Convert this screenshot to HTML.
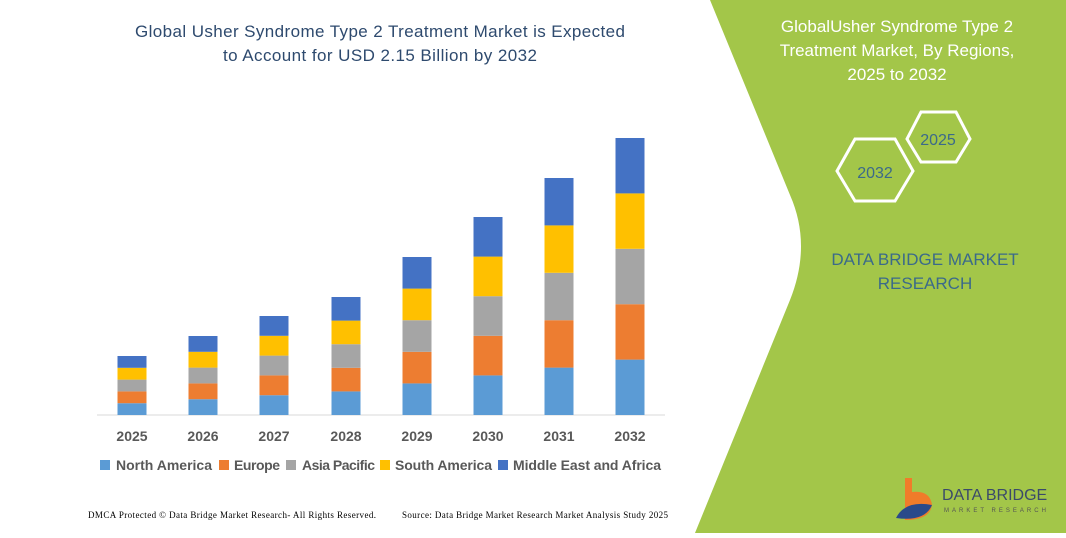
<!DOCTYPE html>
<html><head><meta charset="utf-8"><style>
body{margin:0;width:1066px;height:533px;overflow:hidden;background:#fff;font-family:"Liberation Sans",sans-serif;}
</style></head><body>
<svg width="1066" height="533" viewBox="0 0 1066 533" xmlns="http://www.w3.org/2000/svg" font-family="Liberation Sans,sans-serif">
<path d="M710,0 L1066,0 L1066,533 L695,533 L790,300 Q812,245 790,195 Z" fill="#a3c649"/>
<text x="380" y="37" text-anchor="middle" font-size="17" fill="#2e4a6e" textLength="490">Global Usher Syndrome Type 2 Treatment Market is Expected</text>
<text x="380" y="61" text-anchor="middle" font-size="17" fill="#2e4a6e" textLength="314">to Account for USD 2.15 Billion by 2032</text>
<g font-size="17" fill="#fff" text-anchor="middle">
<text x="897" y="32">GlobalUsher Syndrome Type 2</text>
<text x="897" y="56">Treatment Market, By Regions,</text>
<text x="897" y="80">2025 to 2032</text>
</g>
<polygon points="855,139 895,139 913,171 895,201 855,201 837,171" fill="none" stroke="#fff" stroke-width="3"/>
<polygon points="921,112 956,112 970,139 956,162 921,162 907,139" fill="none" stroke="#fff" stroke-width="3"/>
<text x="875" y="178" text-anchor="middle" font-size="16" fill="#3b6a8a">2032</text>
<text x="938" y="145" text-anchor="middle" font-size="16" fill="#3b6a8a">2025</text>
<text x="925" y="265" text-anchor="middle" font-size="17" fill="#3b6a8a">DATA BRIDGE MARKET</text>
<text x="925" y="289" text-anchor="middle" font-size="17" fill="#3b6a8a">RESEARCH</text>
<path d="M905,478 L912,478 L912,492 Q930,490 932,505 Q930,520 905,520 Z" fill="#f07c2a"/>
<path d="M896,518 Q905,500 932,505 Q925,522 896,518 Z" fill="#2a4a8a"/>
<text x="942" y="500" font-size="16" fill="#3b4a6a">DATA BRIDGE</text>
<text x="944" y="512" font-size="6" fill="#555" letter-spacing="3">MARKET RESEARCH</text>
<line x1="97" y1="415" x2="665" y2="415" stroke="#d9d9d9" stroke-width="1"/>
<g>
<rect x="117.5" y="403.2" width="29" height="11.8" fill="#5b9bd5"/><rect x="117.5" y="391.4" width="29" height="11.8" fill="#ed7d31"/><rect x="117.5" y="379.6" width="29" height="11.8" fill="#a5a5a5"/><rect x="117.5" y="367.8" width="29" height="11.8" fill="#ffc000"/><rect x="117.5" y="356" width="29" height="11.8" fill="#4472c4"/>
<rect x="188.5" y="399.2" width="29" height="15.8" fill="#5b9bd5"/><rect x="188.5" y="383.4" width="29" height="15.8" fill="#ed7d31"/><rect x="188.5" y="367.6" width="29" height="15.8" fill="#a5a5a5"/><rect x="188.5" y="351.8" width="29" height="15.8" fill="#ffc000"/><rect x="188.5" y="336" width="29" height="15.8" fill="#4472c4"/>
<rect x="259.5" y="395.2" width="29" height="19.8" fill="#5b9bd5"/><rect x="259.5" y="375.4" width="29" height="19.8" fill="#ed7d31"/><rect x="259.5" y="355.6" width="29" height="19.8" fill="#a5a5a5"/><rect x="259.5" y="335.8" width="29" height="19.8" fill="#ffc000"/><rect x="259.5" y="316" width="29" height="19.8" fill="#4472c4"/>
<rect x="331.5" y="391.4" width="29" height="23.6" fill="#5b9bd5"/><rect x="331.5" y="367.8" width="29" height="23.6" fill="#ed7d31"/><rect x="331.5" y="344.2" width="29" height="23.6" fill="#a5a5a5"/><rect x="331.5" y="320.6" width="29" height="23.6" fill="#ffc000"/><rect x="331.5" y="297" width="29" height="23.6" fill="#4472c4"/>
<rect x="402.5" y="383.4" width="29" height="31.6" fill="#5b9bd5"/><rect x="402.5" y="351.8" width="29" height="31.6" fill="#ed7d31"/><rect x="402.5" y="320.2" width="29" height="31.6" fill="#a5a5a5"/><rect x="402.5" y="288.6" width="29" height="31.6" fill="#ffc000"/><rect x="402.5" y="257" width="29" height="31.6" fill="#4472c4"/>
<rect x="473.5" y="375.4" width="29" height="39.6" fill="#5b9bd5"/><rect x="473.5" y="335.8" width="29" height="39.6" fill="#ed7d31"/><rect x="473.5" y="296.2" width="29" height="39.6" fill="#a5a5a5"/><rect x="473.5" y="256.6" width="29" height="39.6" fill="#ffc000"/><rect x="473.5" y="217" width="29" height="39.6" fill="#4472c4"/>
<rect x="544.5" y="367.6" width="29" height="47.4" fill="#5b9bd5"/><rect x="544.5" y="320.2" width="29" height="47.4" fill="#ed7d31"/><rect x="544.5" y="272.8" width="29" height="47.4" fill="#a5a5a5"/><rect x="544.5" y="225.4" width="29" height="47.4" fill="#ffc000"/><rect x="544.5" y="178" width="29" height="47.4" fill="#4472c4"/>
<rect x="615.5" y="359.6" width="29" height="55.4" fill="#5b9bd5"/><rect x="615.5" y="304.2" width="29" height="55.4" fill="#ed7d31"/><rect x="615.5" y="248.8" width="29" height="55.4" fill="#a5a5a5"/><rect x="615.5" y="193.4" width="29" height="55.4" fill="#ffc000"/><rect x="615.5" y="138" width="29" height="55.4" fill="#4472c4"/>
</g>
<g font-size="14" font-weight="bold" fill="#595959" text-anchor="middle">
<text x="132" y="441">2025</text><text x="203" y="441">2026</text><text x="274" y="441">2027</text><text x="346" y="441">2028</text><text x="417" y="441">2029</text><text x="488" y="441">2030</text><text x="559" y="441">2031</text><text x="630" y="441">2032</text>
</g>
<g font-size="14" font-weight="bold" fill="#595959">
<rect x="100" y="460" width="10" height="10" fill="#5b9bd5"/><text x="116" y="470" textLength="96">North America</text>
<rect x="219" y="460" width="10" height="10" fill="#ed7d31"/><text x="234" y="470" textLength="46">Europe</text>
<rect x="286" y="460" width="10" height="10" fill="#a5a5a5"/><text x="302" y="470" textLength="73">Asia Pacific</text>
<rect x="380" y="460" width="10" height="10" fill="#ffc000"/><text x="395" y="470" textLength="97">South America</text>
<rect x="498" y="460" width="10" height="10" fill="#4472c4"/><text x="513" y="470" textLength="148">Middle East and Africa</text>
</g>
<text x="88" y="518" font-size="9" fill="#000" font-family="Liberation Serif,serif" textLength="288">DMCA Protected © Data Bridge Market Research- All Rights Reserved.</text>
<text x="402" y="518" font-size="9" fill="#000" font-family="Liberation Serif,serif" textLength="266">Source: Data Bridge Market Research Market Analysis Study 2025</text>
</svg>
</body></html>
